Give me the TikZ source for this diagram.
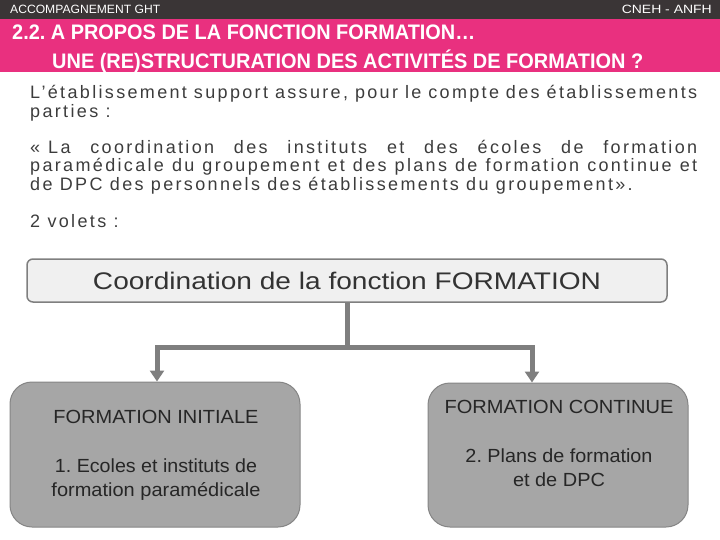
\documentclass[tikz,border=0pt]{standalone}
\usepackage{fontspec}
\setmainfont{Liberation Sans}
\newfontfamily\spacedfont[LetterSpace=13]{Liberation Sans}
\usetikzlibrary{arrows.meta,positioning}
\frenchspacing

\definecolor{barGray}{HTML}{3A3536}
\definecolor{titlePink}{HTML}{E9307F}
\definecolor{bodyGray}{HTML}{3C3C3C}
\definecolor{lineGray}{HTML}{7F7F7F}
\definecolor{boxGray}{HTML}{A6A6A6}
\definecolor{paleGray}{HTML}{F0F0F0}

% stretch a text to a given width, keeping its height
\newcommand{\fitw}[2]{\resizebox{#1}{\height}{#2}}

\tikzset{
	hdr/.style={white, font=\fontsize{12}{12}\selectfont, inner sep=0pt},
	ttl/.style={white, font=\bfseries\fontsize{21}{21}\selectfont, inner sep=0pt, anchor=base west},
	body/.style={bodyGray, font=\spacedfont\fontsize{18}{18}\selectfont, inner sep=0pt, anchor=base west},
	topbox/.style={draw=lineGray, fill=paleGray, line width=1.5pt, rounded corners=6pt,
		minimum width=640pt, minimum height=43pt, inner sep=0pt,
		text=black!80, font=\fontsize{24}{24}\selectfont},
	subbox/.style={draw=boxGray!80!black, fill=boxGray, line width=1pt, rounded corners=22pt},
	boxtxt/.style={text=black!85, font=\fontsize{19}{24}\selectfont, align=center, inner sep=0pt},
	conn/.style={lineGray, line width=5pt},
}

\begin{document}
\begin{tikzpicture}[x=1pt,y=-1pt]
	\useasboundingbox (0,0) rectangle (720,540);
	
	% header bars
	\fill[barGray] (0,0) rectangle (720,19);
	\fill[titlePink] (0,19) rectangle (720,72);
	\node[hdr, anchor=base west] (ghtlbl) at (10,13.5) {\fitw{150pt}{ACCOMPAGNEMENT GHT}};
	\node[hdr, anchor=base east] (cnehlbl) at (712,13.5) {\fitw{90pt}{CNEH - ANFH}};
	\node[ttl] (title1) at (12,40) {\fitw{463pt}{2.2. A PROPOS DE LA FONCTION FORMATION…}};
	\node[ttl] (title2) at (52,69) {\fitw{591pt}{UNE (RE)STRUCTURATION DES ACTIVITÉS DE FORMATION ?}};
	
	% body text
	\node[body] (intro1) at (30,99) {\makebox[667pt][s]{L’établissement support assure, pour le compte des établissements}};
	\node[body] (intro2) at (30,117.5) {parties :};
	\node[body] (quote1) at (30,153.5) {\makebox[667pt][s]{«\hspace{8pt}La coordination des instituts et des écoles de formation}};
	\node[body] (quote2) at (30,172) {\makebox[667pt][s]{paramédicale du groupement et des plans de formation continue et}};
	\node[body] (quote3) at (30,190.5) {de DPC des personnels des établissements du groupement».};
	\node[body] (volets) at (30,227) {2 volets :};
	
	% boxes
	\node[topbox] (coord) at (347,280.5) {\fitw{508pt}{Coordination de la fonction FORMATION}};
	\node[subbox, minimum width=290pt, minimum height=145pt] (init) at (155,454.5) {};
	\node[subbox, minimum width=260pt, minimum height=144pt] (cont) at (558,455) {};
	\node[boxtxt] (inittxt) at (156,455.5) {\fitw{205pt}{FORMATION INITIALE}\\[25pt]
		\fitw{202pt}{1. Ecoles et instituts de}\\ \fitw{209pt}{formation paramédicale}};
	\node[boxtxt] (conttxt) at (559,443.5) {\fitw{229pt}{FORMATION CONTINUE}\\[25pt]
		\fitw{187pt}{2. Plans de formation}\\ \fitw{92pt}{et de DPC}};
	
	% connectors
	\coordinate (split) at (347,347);
	\draw[conn] (coord.south) -- (split);
	\draw[conn, -{Triangle[width=14pt,length=11pt]}] (split) -| ([xshift=2pt]init.north);
	\draw[conn, -{Triangle[width=14pt,length=11pt]}] (split) -| ([xshift=-26pt]cont.north);
\end{tikzpicture}
\end{document}
